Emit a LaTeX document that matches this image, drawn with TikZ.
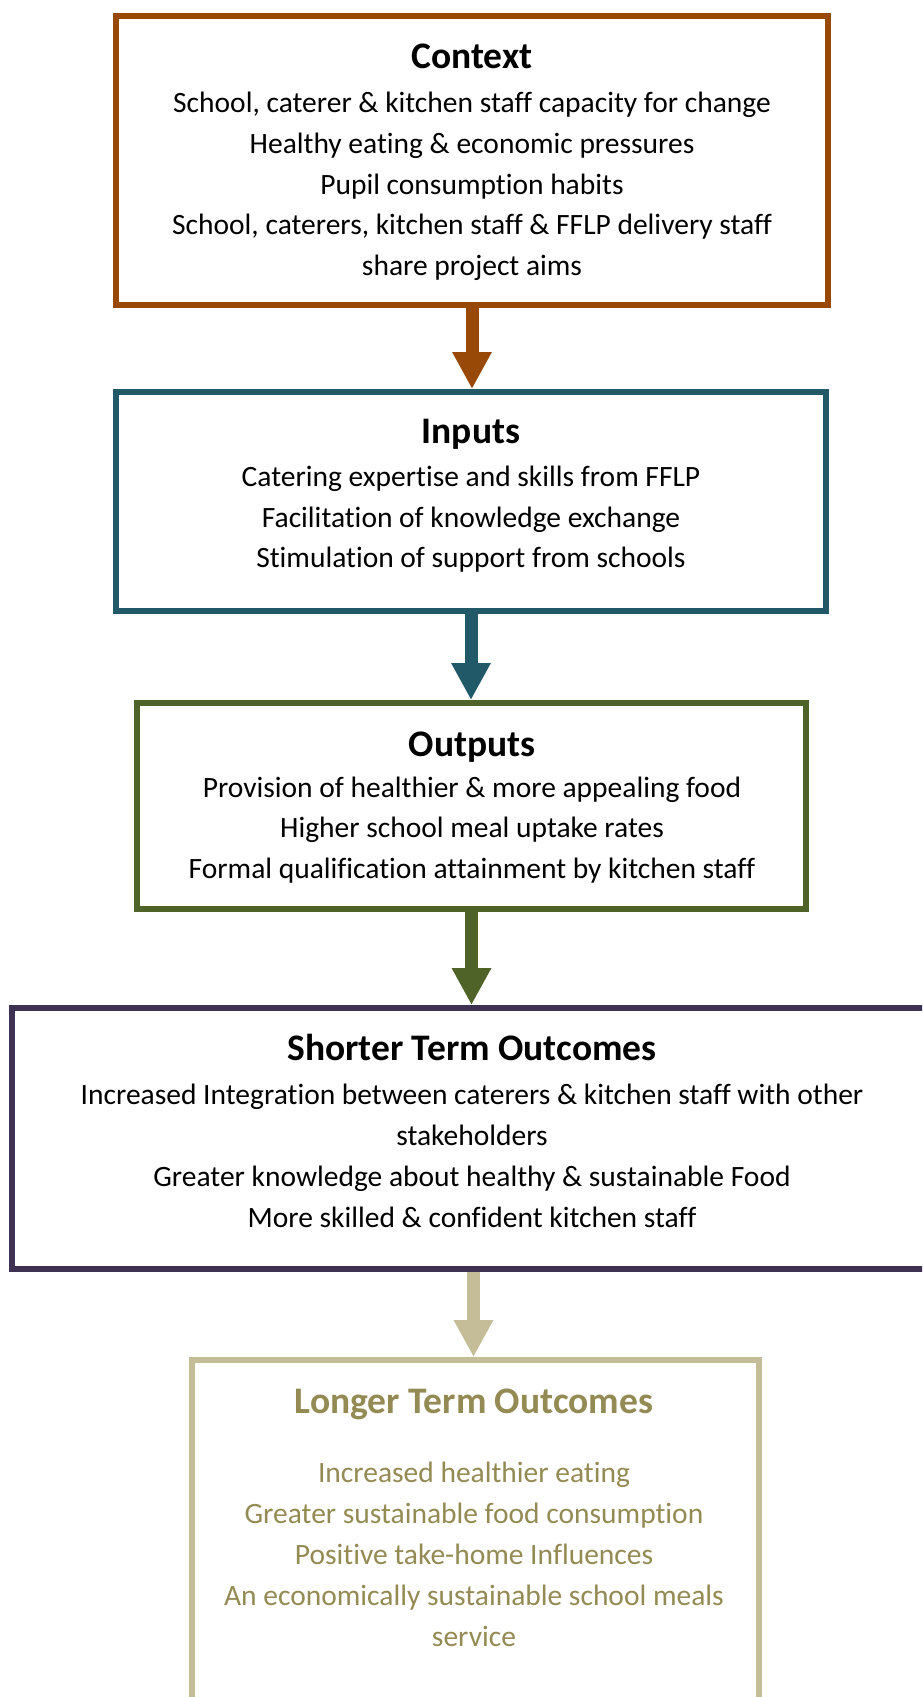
\documentclass[tikz,border=0pt]{standalone}
\usepackage{fontspec}
\setmainfont{Carlito}[Ligatures={NoCommon}]
\usetikzlibrary{arrows.meta}
\definecolor{ctxcol}{HTML}{984807}
\definecolor{inpcol}{HTML}{215968}
\definecolor{outcol}{HTML}{4F6228}
\definecolor{shcol}{HTML}{3F3151}
\definecolor{locol}{HTML}{C4BD97}
\definecolor{lotext}{HTML}{948A54}
\begin{document}
\begin{tikzpicture}[x=1pt,y=-1pt,
  box/.style={draw=#1, line width=6pt, rectangle, inner sep=0pt, fill=white},
  flow/.style={draw=#1, line width=13pt, -{Triangle[width=37pt,length=37pt]}},
  ttl/.style={anchor=base, font=\fontsize{37.5}{42}\selectfont\bfseries, inner sep=0pt},
  txt/.style={anchor=base, font=\fontsize{29.5}{41}\selectfont, inner sep=0pt}]
\useasboundingbox (0,0) rectangle (922,1697);
\clip (0,0) rectangle (922,1697);
% boxes
\node[box=ctxcol, minimum width=712pt, minimum height=289pt] (context) at (472,160.5) {};
\node[box=inpcol, minimum width=710pt, minimum height=219pt] (inputs) at (471,501.5) {};
\node[box=outcol, minimum width=669pt, minimum height=206pt] (outputs) at (471.5,806) {};
\node[box=shcol, minimum width=923pt, minimum height=261pt] (shorter) at (473.5,1138.5) {};
\node[box=locol, minimum width=567pt, minimum height=350pt] (longer) at (475,1535) {};
% arrows
\draw[flow=ctxcol] (context.south) -- (context.south |- inputs.north);
\draw[flow=inpcol] (inputs.south) -- (inputs.south |- outputs.north);
\draw[flow=outcol] (outputs.south) -- (outputs.south |- shorter.north);
\draw[flow=locol] (shorter.south) -- (shorter.south |- longer.north);
% context text
\node[ttl] (ct0) at (472,68) {Context};
\node[txt] (ct1) at (472,112) {School, caterer \& kitchen staff capacity for change};
\node[txt] (ct2) at (472,153) {Healthy eating \& economic pressures};
\node[txt] (ct3) at (472,194) {Pupil consumption habits};
\node[txt] (ct4) at (472,234) {School, caterers, kitchen staff \& FFLP delivery staff};
\node[txt] (ct5) at (472,275) {share project aims};
% inputs text
\node[ttl] (in0) at (471,443) {Inputs};
\node[txt] (in1) at (471,486) {Catering expertise and skills from FFLP};
\node[txt] (in2) at (471,527) {Facilitation of knowledge exchange};
\node[txt] (in3) at (471,567) {Stimulation of support from schools};
% outputs text
\node[ttl] (ou0) at (472,756) {Outputs};
\node[txt] (ou1) at (472,797) {Provision of healthier \& more appealing food};
\node[txt] (ou2) at (472,837) {Higher school meal uptake rates};
\node[txt] (ou3) at (472,878) {Formal qualification attainment by kitchen staff};
% shorter text
\node[ttl] (sh0) at (472,1060) {Shorter Term Outcomes};
\node[txt] (sh1) at (472,1104) {Increased Integration between caterers \& kitchen staff with other};
\node[txt] (sh2) at (472,1145) {stakeholders};
\node[txt] (sh3) at (472,1186) {Greater knowledge about healthy \& sustainable Food};
\node[txt] (sh4) at (472,1227) {More skilled \& confident kitchen staff};
% longer text
\node[ttl, text=lotext] (lo0) at (474,1413) {Longer Term Outcomes};
\node[txt, text=lotext] (lo1) at (474,1482) {Increased healthier eating};
\node[txt, text=lotext] (lo2) at (474,1523) {Greater sustainable food consumption};
\node[txt, text=lotext] (lo3) at (474,1564) {Positive take-home Influences};
\node[txt, text=lotext] (lo4) at (474,1605) {An economically sustainable school meals};
\node[txt, text=lotext] (lo5) at (474,1646) {service};
\end{tikzpicture}
\end{document}
